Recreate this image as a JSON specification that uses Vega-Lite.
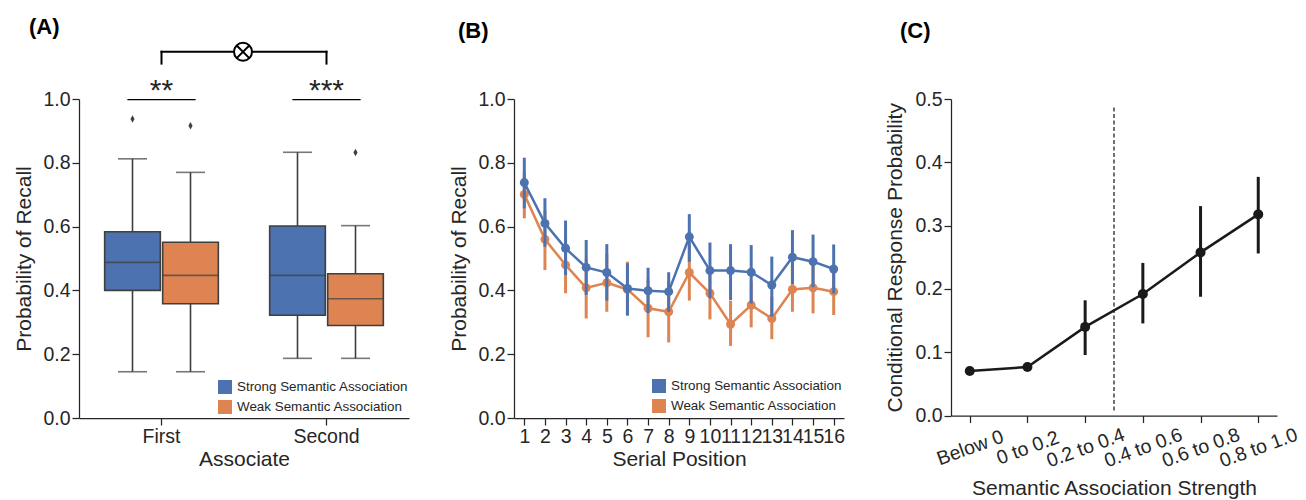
{
  "$schema": "https://vega.github.io/schema/vega-lite/v6.json",
  "padding": {"left": 13, "top": 15, "right": 0, "bottom": 0},
  "background": "white",
  "datasets": {
    "boxes": [
      {"associate": "First", "group": "Strong Semantic Association", "lower": 0.145, "q1": 0.40, "median": 0.488, "q3": 0.584, "upper": 0.8125},
      {"associate": "First", "group": "Weak Semantic Association", "lower": 0.145, "q1": 0.358, "median": 0.447, "q3": 0.551, "upper": 0.77},
      {"associate": "Second", "group": "Strong Semantic Association", "lower": 0.187, "q1": 0.322, "median": 0.447, "q3": 0.602, "upper": 0.833},
      {"associate": "Second", "group": "Weak Semantic Association", "lower": 0.187, "q1": 0.29, "median": 0.374, "q3": 0.452, "upper": 0.603}
    ],
    "outliers": [
      {"associate": "First", "group": "Strong Semantic Association", "value": 0.937},
      {"associate": "First", "group": "Weak Semantic Association", "value": 0.916},
      {"associate": "Second", "group": "Weak Semantic Association", "value": 0.832}
    ],
    "segments": [
      {"x1": 0.297, "x2": 0.703, "y1": 0.998, "y2": 0.998, "w": 1.25},
      {"x1": 1.297, "x2": 1.703, "y1": 0.998, "y2": 0.998, "w": 1.25},
      {"x1": 0.5, "x2": 0.5, "y1": 1.111, "y2": 1.148, "w": 2},
      {"x1": 0.5, "x2": 1.5, "y1": 1.148, "y2": 1.148, "w": 2},
      {"x1": 1.5, "x2": 1.5, "y1": 1.111, "y2": 1.148, "w": 2}
    ],
    "stars": [
      {"x": 0.5, "y": 0.998, "label": "**"},
      {"x": 1.5, "y": 0.998, "label": "***"}
    ],
    "interaction": [{"x": 0.994, "y": 1.148}],
    "serial": [
      {"pos": 1, "group": "Weak Semantic Association", "mean": 0.701, "lo": 0.626, "hi": 0.77},
      {"pos": 2, "group": "Weak Semantic Association", "mean": 0.56, "lo": 0.464, "hi": 0.65},
      {"pos": 3, "group": "Weak Semantic Association", "mean": 0.48, "lo": 0.391, "hi": 0.57},
      {"pos": 4, "group": "Weak Semantic Association", "mean": 0.408, "lo": 0.312, "hi": 0.5},
      {"pos": 5, "group": "Weak Semantic Association", "mean": 0.424, "lo": 0.333, "hi": 0.515},
      {"pos": 6, "group": "Weak Semantic Association", "mean": 0.403, "lo": 0.32, "hi": 0.49},
      {"pos": 7, "group": "Weak Semantic Association", "mean": 0.344, "lo": 0.253, "hi": 0.435},
      {"pos": 8, "group": "Weak Semantic Association", "mean": 0.333, "lo": 0.237, "hi": 0.43},
      {"pos": 9, "group": "Weak Semantic Association", "mean": 0.456, "lo": 0.368, "hi": 0.545},
      {"pos": 10, "group": "Weak Semantic Association", "mean": 0.391, "lo": 0.309, "hi": 0.475},
      {"pos": 11, "group": "Weak Semantic Association", "mean": 0.294, "lo": 0.226, "hi": 0.368},
      {"pos": 12, "group": "Weak Semantic Association", "mean": 0.354, "lo": 0.284, "hi": 0.43},
      {"pos": 13, "group": "Weak Semantic Association", "mean": 0.312, "lo": 0.247, "hi": 0.38},
      {"pos": 14, "group": "Weak Semantic Association", "mean": 0.403, "lo": 0.333, "hi": 0.48},
      {"pos": 15, "group": "Weak Semantic Association", "mean": 0.408, "lo": 0.328, "hi": 0.49},
      {"pos": 16, "group": "Weak Semantic Association", "mean": 0.396, "lo": 0.323, "hi": 0.47},
      {"pos": 1, "group": "Strong Semantic Association", "mean": 0.738, "lo": 0.657, "hi": 0.816},
      {"pos": 2, "group": "Strong Semantic Association", "mean": 0.61, "lo": 0.537, "hi": 0.689},
      {"pos": 3, "group": "Strong Semantic Association", "mean": 0.532, "lo": 0.448, "hi": 0.619},
      {"pos": 4, "group": "Strong Semantic Association", "mean": 0.472, "lo": 0.386, "hi": 0.558},
      {"pos": 5, "group": "Strong Semantic Association", "mean": 0.456, "lo": 0.368, "hi": 0.545},
      {"pos": 6, "group": "Strong Semantic Association", "mean": 0.406, "lo": 0.323, "hi": 0.485},
      {"pos": 7, "group": "Strong Semantic Association", "mean": 0.399, "lo": 0.329, "hi": 0.471},
      {"pos": 8, "group": "Strong Semantic Association", "mean": 0.396, "lo": 0.333, "hi": 0.457},
      {"pos": 9, "group": "Strong Semantic Association", "mean": 0.568, "lo": 0.49, "hi": 0.639},
      {"pos": 10, "group": "Strong Semantic Association", "mean": 0.462, "lo": 0.375, "hi": 0.55},
      {"pos": 11, "group": "Strong Semantic Association", "mean": 0.462, "lo": 0.37, "hi": 0.545},
      {"pos": 12, "group": "Strong Semantic Association", "mean": 0.457, "lo": 0.359, "hi": 0.542},
      {"pos": 13, "group": "Strong Semantic Association", "mean": 0.417, "lo": 0.318, "hi": 0.506},
      {"pos": 14, "group": "Strong Semantic Association", "mean": 0.504, "lo": 0.42, "hi": 0.589},
      {"pos": 15, "group": "Strong Semantic Association", "mean": 0.49, "lo": 0.41, "hi": 0.575},
      {"pos": 16, "group": "Strong Semantic Association", "mean": 0.467, "lo": 0.39, "hi": 0.544}
    ],
    "crp": [
      {"idx": 0, "strength": "Below 0", "mean": 0.0703, "lo": 0.066, "hi": 0.075},
      {"idx": 1, "strength": "0 to 0.2", "mean": 0.0766, "lo": 0.074, "hi": 0.079},
      {"idx": 2, "strength": "0.2 to 0.4", "mean": 0.14, "lo": 0.0955, "hi": 0.182},
      {"idx": 3, "strength": "0.4 to 0.6", "mean": 0.192, "lo": 0.1455, "hi": 0.241},
      {"idx": 4, "strength": "0.6 to 0.8", "mean": 0.2577, "lo": 0.1876, "hi": 0.3308},
      {"idx": 5, "strength": "0.8 to 1.0", "mean": 0.3177, "lo": 0.256, "hi": 0.377}
    ],
    "threshold": [{"x": 2.5, "y1": 0.008, "y2": 0.49}]
  },
  "hconcat": [
    {
      "width": 330,
      "height": 319,
      "title": {"text": "(A)", "dx": -50, "offset": 0},
      "layer": [
        {
          "layer": [
            {
              "data": {"name": "boxes"},
              "mark": {"type": "rule", "color": "#3f3f3f", "strokeWidth": 1.6},
              "encoding": {
                "x": {"field": "associate", "type": "nominal", "scale": {"paddingInner": 0, "paddingOuter": 0}, "axis": {"labelAngle": 0, "title": "Associate"}},
                "xOffset": {"field": "group", "type": "nominal", "scale": {"domain": ["Strong Semantic Association", "Weak Semantic Association"], "paddingInner": 0.04, "paddingOuter": 0.4425}},
                "y": {"field": "lower", "type": "quantitative", "scale": {"domain": [0, 1], "nice": false}, "axis": {"values": [0, 0.2, 0.4, 0.6, 0.8, 1.0], "format": ".1f", "title": "Probability of Recall"}},
                "y2": {"field": "upper"}
              }
            },
            {
              "data": {"name": "boxes"},
              "mark": {"type": "tick", "color": "#3f3f3f", "thickness": 1.6, "size": 29},
              "encoding": {
                "x": {"field": "associate", "type": "nominal"},
                "xOffset": {"field": "group", "type": "nominal"},
                "y": {"field": "lower", "type": "quantitative"}
              }
            },
            {
              "data": {"name": "boxes"},
              "mark": {"type": "tick", "color": "#3f3f3f", "thickness": 1.6, "size": 29},
              "encoding": {
                "x": {"field": "associate", "type": "nominal"},
                "xOffset": {"field": "group", "type": "nominal"},
                "y": {"field": "upper", "type": "quantitative"}
              }
            },
            {
              "data": {"name": "boxes"},
              "mark": {"type": "bar", "stroke": "#3f3f3f", "strokeWidth": 1.6},
              "encoding": {
                "x": {"field": "associate", "type": "nominal"},
                "xOffset": {"field": "group", "type": "nominal"},
                "y": {"field": "q1", "type": "quantitative"},
                "y2": {"field": "q3"},
                "color": {"field": "group", "type": "nominal", "scale": {"domain": ["Strong Semantic Association", "Weak Semantic Association"], "range": ["#4c72b0", "#dd8452"]}, "legend": {"title": null, "orient": "none", "legendX": 139, "legendY": 281}}
              }
            },
            {
              "data": {"name": "boxes"},
              "mark": {"type": "tick", "color": "#3f3f3f", "thickness": 1.6, "size": 55.7},
              "encoding": {
                "x": {"field": "associate", "type": "nominal"},
                "xOffset": {"field": "group", "type": "nominal"},
                "y": {"field": "median", "type": "quantitative"}
              }
            },
            {
              "data": {"name": "outliers"},
              "mark": {"type": "point", "shape": "M0,-1L0.55,0L0,1L-0.55,0Z", "filled": true, "color": "#3f3f3f", "size": 56, "opacity": 1},
              "encoding": {
                "x": {"field": "associate", "type": "nominal"},
                "xOffset": {"field": "group", "type": "nominal"},
                "y": {"field": "value", "type": "quantitative"}
              }
            }
          ]
        },
        {
          "layer": [
            {
              "data": {"name": "segments"},
              "mark": {"type": "rule", "color": "black", "strokeCap": "square"},
              "encoding": {
                "x": {"field": "x1", "type": "quantitative", "scale": {"domain": [0, 2], "nice": false, "zero": false}, "axis": null},
                "x2": {"field": "x2"},
                "y": {"field": "y1", "type": "quantitative", "scale": {"domain": [0, 1], "nice": false}},
                "y2": {"field": "y2"},
                "strokeWidth": {"field": "w", "type": "quantitative", "scale": null, "legend": null}
              }
            },
            {
              "data": {"name": "stars"},
              "mark": {"type": "text", "fontSize": 30, "baseline": "alphabetic", "align": "center", "color": "#262626"},
              "encoding": {
                "x": {"field": "x", "type": "quantitative", "axis": null},
                "y": {"field": "y", "type": "quantitative"},
                "text": {"field": "label"}
              }
            },
            {
              "data": {"name": "interaction"},
              "mark": {"type": "point", "shape": "circle", "filled": true, "fill": "white", "stroke": "black", "strokeWidth": 2, "size": 324, "opacity": 1},
              "encoding": {
                "x": {"field": "x", "type": "quantitative", "axis": null},
                "y": {"field": "y", "type": "quantitative"}
              }
            },
            {
              "data": {"name": "interaction"},
              "mark": {"type": "point", "shape": "M-0.7,-0.7L0.7,0.7M-0.7,0.7L0.7,-0.7", "filled": false, "stroke": "black", "strokeWidth": 2, "size": 324, "opacity": 1},
              "encoding": {
                "x": {"field": "x", "type": "quantitative", "axis": null},
                "y": {"field": "y", "type": "quantitative"}
              }
            }
          ]
        }
      ],
      "resolve": {"scale": {"x": "independent"}, "axis": {"x": "independent"}}
    },
    {
      "width": 330,
      "height": 319,
      "title": {"text": "(B)", "dx": -56, "offset": 46},
      "data": {"name": "serial"},
      "encoding": {
        "x": {"field": "pos", "type": "ordinal", "scale": {"type": "point", "padding": 0.5}, "axis": {"labelAngle": 0, "labelOverlap": false, "title": "Serial Position"}},
        "y": {"type": "quantitative", "scale": {"domain": [0, 1], "nice": false}, "axis": {"values": [0, 0.2, 0.4, 0.6, 0.8, 1.0], "format": ".1f", "title": "Probability of Recall"}}
      },
      "layer": [
        {"transform": [{"filter": "datum.group === 'Weak Semantic Association'"}], "mark": {"type": "rule", "color": "#dd8452", "strokeWidth": 3}, "encoding": {"y": {"field": "lo", "type": "quantitative"}, "y2": {"field": "hi"}}},
        {"transform": [{"filter": "datum.group === 'Weak Semantic Association'"}], "mark": {"type": "line", "color": "#dd8452", "strokeWidth": 2.5}, "encoding": {"y": {"field": "mean", "type": "quantitative"}}},
        {"transform": [{"filter": "datum.group === 'Weak Semantic Association'"}], "mark": {"type": "point", "filled": true, "size": 81, "opacity": 1}, "encoding": {"y": {"field": "mean", "type": "quantitative"}, "color": {"field": "group", "type": "nominal", "scale": {"domain": ["Strong Semantic Association", "Weak Semantic Association"], "range": ["#4c72b0", "#dd8452"]}, "legend": {"title": null, "orient": "none", "legendX": 138, "legendY": 280, "symbolType": "square"}}}},
        {"transform": [{"filter": "datum.group === 'Strong Semantic Association'"}], "mark": {"type": "rule", "color": "#4c72b0", "strokeWidth": 3}, "encoding": {"y": {"field": "lo", "type": "quantitative"}, "y2": {"field": "hi"}}},
        {"transform": [{"filter": "datum.group === 'Strong Semantic Association'"}], "mark": {"type": "line", "color": "#4c72b0", "strokeWidth": 2.5}, "encoding": {"y": {"field": "mean", "type": "quantitative"}}},
        {"transform": [{"filter": "datum.group === 'Strong Semantic Association'"}], "mark": {"type": "point", "filled": true, "size": 81, "opacity": 1}, "encoding": {"y": {"field": "mean", "type": "quantitative"}, "color": {"field": "group", "type": "nominal"}}}
      ]
    },
    {
      "width": 326,
      "height": 316.5,
      "title": {"text": "(C)", "dx": -51, "offset": 46},
      "encoding": {
        "x": {"type": "quantitative", "scale": {"domain": [-0.325, 5.325], "nice": false, "zero": false}, "axis": {"values": [0, 1, 2, 3, 4, 5], "labelExpr": "['Below 0','0 to 0.2','0.2 to 0.4','0.4 to 0.6','0.6 to 0.8','0.8 to 1.0'][datum.value]", "labelAngle": -20, "labelAlign": "center", "labelBaseline": "middle", "labelPadding": 25, "labelOverlap": false, "labelBound": false, "labelFlush": false, "titlePadding": 7, "title": "Semantic Association Strength"}},
        "y": {"type": "quantitative", "scale": {"domain": [0, 0.5], "nice": false}, "axis": {"values": [0, 0.1, 0.2, 0.3, 0.4, 0.5], "format": ".1f", "title": "Conditional Response Probability", "titlePadding": 9}}
      },
      "layer": [
        {"data": {"name": "threshold"}, "mark": {"type": "rule", "color": "#1a1a1a", "strokeWidth": 1.25, "strokeDash": [4, 2.5]}, "encoding": {"x": {"field": "x"}, "y": {"field": "y1"}, "y2": {"field": "y2"}}},
        {"data": {"name": "crp"}, "mark": {"type": "rule", "color": "#1a1a1a", "strokeWidth": 3}, "encoding": {"x": {"field": "idx"}, "y": {"field": "lo"}, "y2": {"field": "hi"}}},
        {"data": {"name": "crp"}, "mark": {"type": "line", "color": "#1a1a1a", "strokeWidth": 2.5}, "encoding": {"x": {"field": "idx"}, "y": {"field": "mean"}}},
        {"data": {"name": "crp"}, "mark": {"type": "point", "filled": true, "color": "#1a1a1a", "size": 100, "opacity": 1}, "encoding": {"x": {"field": "idx"}, "y": {"field": "mean"}}}
      ]
    }
  ],
  "spacing": 39,
  "resolve": {"scale": {"color": "independent", "y": "independent", "x": "independent"}, "legend": {"color": "independent"}},
  "config": {
    "font": "Liberation Sans",
    "view": {"stroke": null},
    "axis": {"grid": false, "domainColor": "#262626", "tickColor": "#262626", "labelColor": "#262626", "titleColor": "#262626", "labelFontSize": 19.5, "titleFontSize": 21, "titleFontWeight": "normal", "tickSize": 7, "domainWidth": 1.25, "tickWidth": 1.25, "labelPadding": 2},
    "axisY": {"titlePadding": 8},
    "axisX": {"titlePadding": 3},
    "legend": {"labelFontSize": 13.4, "labelColor": "#262626", "symbolType": "square", "symbolSize": 196, "symbolStrokeWidth": 0, "rowPadding": 6, "labelOffset": 5, "labelLimit": 400},
    "title": {"fontSize": 22, "fontWeight": "bold", "anchor": "start", "frame": "group", "color": "black"}
  }
}
